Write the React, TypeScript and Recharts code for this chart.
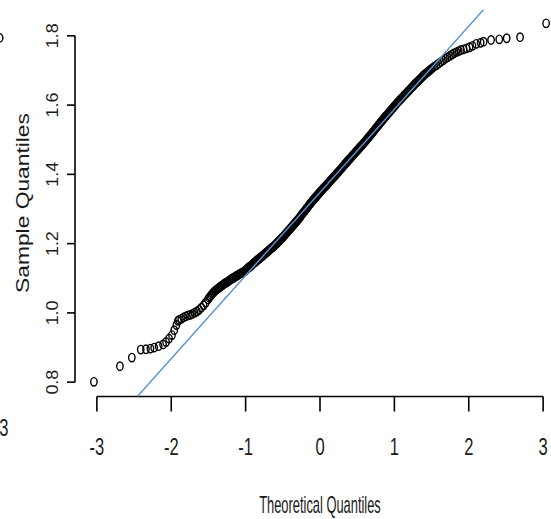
import { ReferenceLine, Scatter, ScatterChart, XAxis, YAxis } from "recharts";

// normal Q-Q plot: theoretical quantiles (x) vs sorted sample (y)
const LOW_TAIL_X = [-3.04, -2.69, -2.53, -2.41, -2.34, -2.28, -2.23, -2.17, -2.11, -2.07, -2.03, -1.99, -1.96, -1.93, -1.91];
const LOW_TAIL_Y = [0.801, 0.846, 0.871, 0.894, 0.895, 0.897, 0.9, 0.904, 0.909, 0.916, 0.926, 0.936, 0.95, 0.965, 0.977];

const LOW_BAND_X = [
  -1.895, -1.865, -1.835, -1.805, -1.775, -1.745, -1.715, -1.685, -1.655, -1.625, -1.595, -1.565, -1.535, -1.505,
  -1.49, -1.475, -1.46, -1.445, -1.43, -1.415, -1.4, -1.385, -1.37, -1.355, -1.34, -1.325, -1.31, -1.295, -1.28,
  -1.265, -1.25, -1.235, -1.22, -1.205, -1.19, -1.175, -1.16, -1.145, -1.13, -1.115, -1.1, -1.085, -1.07, -1.055,
  -1.04, -1.025, -1.01,
];
const LOW_BAND_Y = [
  0.98, 0.983, 0.987, 0.99, 0.993, 0.994, 0.997, 1.001, 1.004, 1.009, 1.015, 1.022, 1.03, 1.039,
  1.044, 1.048, 1.052, 1.056, 1.059, 1.063, 1.066, 1.068, 1.071, 1.073, 1.076, 1.078, 1.08, 1.083, 1.085,
  1.087, 1.089, 1.091, 1.094, 1.096, 1.098, 1.1, 1.102, 1.104, 1.106, 1.108, 1.11, 1.112, 1.114, 1.115,
  1.117, 1.119, 1.121,
];

const MID_X = [
  -1.0, -0.99, -0.98, -0.97, -0.96, -0.95, -0.94, -0.93, -0.92, -0.91,
  -0.9, -0.89, -0.88, -0.87, -0.86, -0.85, -0.84, -0.83, -0.82, -0.81,
  -0.8, -0.79, -0.78, -0.77, -0.76, -0.75, -0.74, -0.73, -0.72, -0.71,
  -0.7, -0.69, -0.68, -0.67, -0.66, -0.65, -0.64, -0.63, -0.62, -0.61,
  -0.6, -0.59, -0.58, -0.57, -0.56, -0.55, -0.54, -0.53, -0.52, -0.51,
  -0.5, -0.49, -0.48, -0.47, -0.46, -0.45, -0.44, -0.43, -0.42, -0.41,
  -0.4, -0.39, -0.38, -0.37, -0.36, -0.35, -0.34, -0.33, -0.32, -0.31,
  -0.3, -0.29, -0.28, -0.27, -0.26, -0.25, -0.24, -0.23, -0.22, -0.21,
  -0.2, -0.19, -0.18, -0.17, -0.16, -0.15, -0.14, -0.13, -0.12, -0.11,
  -0.1, -0.09, -0.08, -0.07, -0.06, -0.05, -0.04, -0.03, -0.02, -0.01,
  0.0, 0.01, 0.02, 0.03, 0.04, 0.05, 0.06, 0.07, 0.08, 0.09,
  0.1, 0.11, 0.12, 0.13, 0.14, 0.15, 0.16, 0.17, 0.18, 0.19,
  0.2, 0.21, 0.22, 0.23, 0.24, 0.25, 0.26, 0.27, 0.28, 0.29,
  0.3, 0.31, 0.32, 0.33, 0.34, 0.35, 0.36, 0.37, 0.38, 0.39,
  0.4, 0.41, 0.42, 0.43, 0.44, 0.45, 0.46, 0.47, 0.48, 0.49,
  0.5, 0.51, 0.52, 0.53, 0.54, 0.55, 0.56, 0.57, 0.58, 0.59,
  0.6, 0.61, 0.62, 0.63, 0.64, 0.65, 0.66, 0.67, 0.68, 0.69,
  0.7, 0.71, 0.72, 0.73, 0.74, 0.75, 0.76, 0.77, 0.78, 0.79,
  0.8, 0.81, 0.82, 0.83, 0.84, 0.85, 0.86, 0.87, 0.88, 0.89,
  0.9, 0.91, 0.92, 0.93, 0.94, 0.95, 0.96, 0.97, 0.98, 0.99, 1.0,
];
const MID_Y = [
  1.123, 1.125, 1.127, 1.129, 1.131, 1.133, 1.134, 1.136, 1.138, 1.14,
  1.142, 1.144, 1.146, 1.147, 1.149, 1.151, 1.153, 1.155, 1.156, 1.158,
  1.16, 1.162, 1.164, 1.165, 1.167, 1.169, 1.171, 1.173, 1.174, 1.176,
  1.178, 1.18, 1.182, 1.184, 1.186, 1.188, 1.189, 1.191, 1.193, 1.195,
  1.197, 1.199, 1.201, 1.204, 1.206, 1.208, 1.21, 1.212, 1.215, 1.217,
  1.219, 1.221, 1.224, 1.226, 1.229, 1.231, 1.233, 1.236, 1.238, 1.241,
  1.243, 1.246, 1.248, 1.251, 1.253, 1.256, 1.258, 1.261, 1.263, 1.266,
  1.268, 1.271, 1.274, 1.276, 1.279, 1.282, 1.285, 1.288, 1.29, 1.293,
  1.296, 1.299, 1.302, 1.304, 1.307, 1.31, 1.313, 1.316, 1.318, 1.321,
  1.324, 1.326, 1.329, 1.331, 1.334, 1.336, 1.339, 1.341, 1.344, 1.346,
  1.349, 1.351, 1.354, 1.356, 1.358, 1.361, 1.363, 1.365, 1.367, 1.37,
  1.372, 1.374, 1.377, 1.379, 1.382, 1.384, 1.386, 1.389, 1.391, 1.394,
  1.396, 1.398, 1.401, 1.403, 1.406, 1.408, 1.41, 1.413, 1.415, 1.418,
  1.42, 1.423, 1.425, 1.428, 1.43, 1.433, 1.435, 1.438, 1.44, 1.443,
  1.445, 1.447, 1.45, 1.452, 1.455, 1.457, 1.459, 1.462, 1.464, 1.467,
  1.469, 1.471, 1.474, 1.476, 1.479, 1.481, 1.483, 1.486, 1.488, 1.491,
  1.493, 1.496, 1.498, 1.501, 1.503, 1.506, 1.509, 1.511, 1.514, 1.516,
  1.519, 1.522, 1.524, 1.527, 1.53, 1.533, 1.535, 1.538, 1.541, 1.543,
  1.546, 1.549, 1.551, 1.554, 1.556, 1.559, 1.562, 1.564, 1.567, 1.569,
  1.572, 1.574, 1.577, 1.579, 1.582, 1.584, 1.587, 1.589, 1.592, 1.594, 1.597,
];

const HIGH_BAND_X = [
  1.01, 1.025, 1.04, 1.055, 1.07, 1.085, 1.1, 1.115, 1.13, 1.145, 1.16, 1.175, 1.19, 1.205, 1.22, 1.235, 1.25,
  1.265, 1.28, 1.295, 1.31, 1.325, 1.34, 1.355, 1.37, 1.385, 1.4, 1.415, 1.43, 1.445, 1.46, 1.475, 1.49,
  1.505, 1.535, 1.565, 1.595, 1.625, 1.655, 1.685, 1.715, 1.745, 1.775, 1.805, 1.835, 1.865, 1.895,
];
const HIGH_BAND_Y = [
  1.599, 1.603, 1.607, 1.61, 1.614, 1.617, 1.621, 1.624, 1.628, 1.631, 1.634, 1.638, 1.641, 1.644, 1.648, 1.651, 1.655,
  1.658, 1.662, 1.665, 1.668, 1.671, 1.674, 1.677, 1.681, 1.684, 1.687, 1.69, 1.692, 1.695, 1.698, 1.7, 1.703,
  1.706, 1.711, 1.715, 1.72, 1.725, 1.729, 1.734, 1.738, 1.742, 1.746, 1.75, 1.753, 1.756, 1.759,
];

const HIGH_TAIL_X = [1.93, 1.97, 2.01, 2.05, 2.1, 2.16, 2.2, 2.3, 2.41, 2.51, 2.69, 3.04];
const HIGH_TAIL_Y = [1.761, 1.764, 1.767, 1.771, 1.777, 1.78, 1.783, 1.788, 1.79, 1.793, 1.796, 1.836];

// edge of the neighbouring panel that is cut off on the left
const SIDE_X = [3.01];
const SIDE_Y = [1.794];

const X_TICKS = [-3, -2, -1, 0, 1, 2, 3];
const Y_TICKS = [0.8, 1.0, 1.2, 1.4, 1.6, 1.8];
const X_DOMAIN: [number, number] = [-3.294, 3.294];
const Y_DOMAIN: [number, number] = [0.7586, 1.876];
// qqline through the quartiles
const QQ_INTERCEPT = 1.348;
const QQ_SLOPE = 0.24;

const FONT = "'Liberation Sans', Arial, Helvetica, sans-serif";
const INK = "#1a1a1a";
const W = 570;
const H = 519;
const MARGIN = { top: 9.5, right: 5, bottom: 0, left: 0 };

const toPoints = (xs: number[], ys: number[]) => xs.map((x, i) => ({ x, y: ys[i] }));

const points = [
  ...toPoints(LOW_TAIL_X, LOW_TAIL_Y),
  ...toPoints(LOW_BAND_X, LOW_BAND_Y),
  ...toPoints(MID_X, MID_Y),
  ...toPoints(HIGH_BAND_X, HIGH_BAND_Y),
  ...toPoints(HIGH_TAIL_X, HIGH_TAIL_Y),
];

// where the qqline meets the bottom and top of the plot box
const qqLine = Y_DOMAIN.map((y) => ({ x: (y - QQ_INTERCEPT) / QQ_SLOPE, y }));

const Ring = (props: any) => (
  <ellipse cx={props.cx} cy={props.cy} rx={3.2} ry={4.2} fill="none" stroke="#000" strokeWidth={1.4} />
);

const XTick = ({ x, y, payload, lift = 0, shift = 0 }: any) => (
  <text
    transform={`translate(${x + shift},${y + 43 - lift}) scale(0.72,1)`}
    textAnchor="middle"
    fontSize={23}
    fontFamily={FONT}
    fill={INK}
  >
    {payload.value}
  </text>
);

const YTick = ({ x, y, payload }: any) => (
  <text
    transform={`translate(${x - 9.5},${y}) rotate(-90) scale(1.12,1)`}
    textAnchor="middle"
    fontSize={16}
    fontFamily={FONT}
    fill={INK}
  >
    {Number(payload.value).toFixed(1)}
  </text>
);

export default function App() {
  return (
    <div style={{ position: "fixed", left: 0, top: 0, width: 551, height: 519, overflow: "hidden", background: "#fff" }}>
      {/* cut-off panel on the left */}
      <div style={{ position: "absolute", left: -541, top: 0 }}>
        <ScatterChart width={W} height={H} margin={MARGIN}>
          <XAxis
            type="number"
            dataKey="x"
            domain={X_DOMAIN}
            ticks={[3]}
            axisLine={false}
            tickLine={{ stroke: "#000", strokeWidth: 1.6 }}
            tickSize={15}
            tickMargin={0}
            height={122.5}
            tick={(p: any) => <XTick {...p} lift={19} shift={5} />}
          />
          <YAxis type="number" dataKey="y" domain={Y_DOMAIN} hide width={75} />
          <ReferenceLine
            segment={[{ x: 2, y: Y_DOMAIN[0] }, { x: 3, y: Y_DOMAIN[0] }]}
            stroke="#000"
            strokeWidth={1.6}
            ifOverflow="visible"
          />
          <Scatter data={toPoints(SIDE_X, SIDE_Y)} shape={Ring} isAnimationActive={false} />
        </ScatterChart>
      </div>

      <div style={{ position: "absolute", left: 0, top: 0 }}>
        <ScatterChart width={W} height={H} margin={MARGIN}>
          <XAxis
            type="number"
            dataKey="x"
            domain={X_DOMAIN}
            ticks={X_TICKS}
            allowDataOverflow
            axisLine={false}
            tickLine={{ stroke: "#000", strokeWidth: 1.6 }}
            tickSize={15}
            tickMargin={0}
            height={122.5}
            tick={<XTick />}
            label={() => (
              <text
                transform="translate(320,513) scale(0.56,1)"
                textAnchor="middle"
                fontSize={23}
                fontFamily={FONT}
                fill={INK}
              >
                Theoretical Quantiles
              </text>
            )}
          />
          <YAxis
            type="number"
            dataKey="y"
            domain={Y_DOMAIN}
            ticks={Y_TICKS}
            allowDataOverflow
            axisLine={false}
            tickLine={{ stroke: "#000", strokeWidth: 1.6 }}
            tickSize={8}
            tickMargin={0}
            width={75}
            tick={<YTick />}
            label={() => (
              <text
                transform="translate(29,203) rotate(-90) scale(1.2,1)"
                textAnchor="middle"
                fontSize={19}
                fontFamily={FONT}
                fill={INK}
              >
                Sample Quantiles
              </text>
            )}
          />
          <ReferenceLine
            segment={[{ x: X_TICKS[0], y: Y_DOMAIN[0] }, { x: X_TICKS[X_TICKS.length - 1], y: Y_DOMAIN[0] }]}
            stroke="#000"
            strokeWidth={1.6}
            ifOverflow="visible"
          />
          <ReferenceLine
            segment={[{ x: X_DOMAIN[0], y: Y_TICKS[0] }, { x: X_DOMAIN[0], y: Y_TICKS[Y_TICKS.length - 1] }]}
            stroke="#000"
            strokeWidth={1.6}
            ifOverflow="visible"
          />
          <Scatter data={points} shape={Ring} isAnimationActive={false} />
          <Scatter
            data={qqLine}
            line={{ stroke: "#5b95cf", strokeWidth: 1.4 }}
            shape={() => <g />}
            isAnimationActive={false}
          />
        </ScatterChart>
      </div>
    </div>
  );
}
